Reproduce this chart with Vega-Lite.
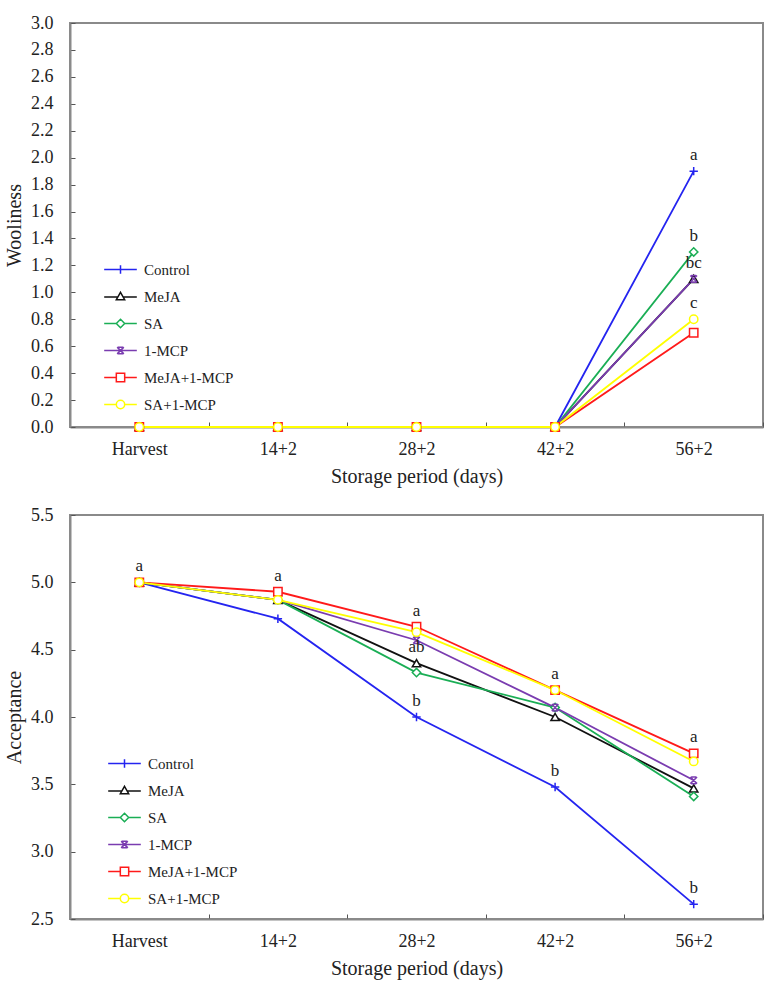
{
  "$schema": "https://vega.github.io/schema/vega-lite/v6.json",
  "description": "Woolliness and acceptance of fruit under six postharvest treatments over storage.",
  "padding": {"left": 3, "top": 13, "right": 4, "bottom": 2},
  "spacing": 18,
  "resolve": {
    "scale": {"color": "independent"},
    "legend": {"color": "independent"}
  },
  "config": {
    "font": "Liberation Serif",
    "view": {"stroke": "#8a8a8a", "strokeWidth": 2},
    "text": {"font": "Liberation Serif"},
    "axis": {
      "grid": false,
      "domainColor": "#8a8a8a",
      "domainWidth": 2,
      "tickColor": "#555555",
      "tickSize": -5,
      "tickWidth": 1,
      "labelFont": "Liberation Serif",
      "labelFontSize": 18,
      "labelColor": "#222222",
      "titleFont": "Liberation Serif",
      "titleFontSize": 20,
      "titleFontWeight": "normal",
      "titleColor": "#222222"
    },
    "axisX": {"labelPadding": 18, "titlePadding": 8, "labelAngle": 0, "tickBand": "extent"},
    "axisY": {"labelPadding": 22, "titlePadding": 6},
    "legend": {
      "orient": "none",
      "title": null,
      "symbolSize": 70,
      "symbolStrokeWidth": 1.5,
      "symbolFillColor": "white",
      "labelFont": "Liberation Serif",
      "labelFontSize": 15,
      "labelColor": "#222222",
      "labelOffset": 16,
      "rowPadding": 11
    }
  },
  "datasets": {
    "woolliness": [
      {"period": "Harvest", "treatment": "Control", "value": 0},
      {"period": "14+2", "treatment": "Control", "value": 0},
      {"period": "28+2", "treatment": "Control", "value": 0},
      {"period": "42+2", "treatment": "Control", "value": 0},
      {"period": "56+2", "treatment": "Control", "value": 1.9, "sig": "a"},
      {"period": "Harvest", "treatment": "MeJA", "value": 0},
      {"period": "14+2", "treatment": "MeJA", "value": 0},
      {"period": "28+2", "treatment": "MeJA", "value": 0},
      {"period": "42+2", "treatment": "MeJA", "value": 0},
      {"period": "56+2", "treatment": "MeJA", "value": 1.1},
      {"period": "Harvest", "treatment": "SA", "value": 0},
      {"period": "14+2", "treatment": "SA", "value": 0},
      {"period": "28+2", "treatment": "SA", "value": 0},
      {"period": "42+2", "treatment": "SA", "value": 0},
      {"period": "56+2", "treatment": "SA", "value": 1.3, "sig": "b"},
      {"period": "Harvest", "treatment": "1-MCP", "value": 0},
      {"period": "14+2", "treatment": "1-MCP", "value": 0},
      {"period": "28+2", "treatment": "1-MCP", "value": 0},
      {"period": "42+2", "treatment": "1-MCP", "value": 0},
      {"period": "56+2", "treatment": "1-MCP", "value": 1.1, "sig": "bc"},
      {"period": "Harvest", "treatment": "MeJA+1-MCP", "value": 0},
      {"period": "14+2", "treatment": "MeJA+1-MCP", "value": 0},
      {"period": "28+2", "treatment": "MeJA+1-MCP", "value": 0},
      {"period": "42+2", "treatment": "MeJA+1-MCP", "value": 0},
      {"period": "56+2", "treatment": "MeJA+1-MCP", "value": 0.7},
      {"period": "Harvest", "treatment": "SA+1-MCP", "value": 0},
      {"period": "14+2", "treatment": "SA+1-MCP", "value": 0},
      {"period": "28+2", "treatment": "SA+1-MCP", "value": 0},
      {"period": "42+2", "treatment": "SA+1-MCP", "value": 0},
      {"period": "56+2", "treatment": "SA+1-MCP", "value": 0.8, "sig": "c"}
    ],
    "acceptance": [
      {"period": "Harvest", "treatment": "Control", "value": 5.0},
      {"period": "14+2", "treatment": "Control", "value": 4.73},
      {"period": "28+2", "treatment": "Control", "value": 4.0, "sig": "b"},
      {"period": "42+2", "treatment": "Control", "value": 3.48, "sig": "b"},
      {"period": "56+2", "treatment": "Control", "value": 2.61, "sig": "b"},
      {"period": "Harvest", "treatment": "MeJA", "value": 5.0},
      {"period": "14+2", "treatment": "MeJA", "value": 4.87},
      {"period": "28+2", "treatment": "MeJA", "value": 4.4, "sig": "ab"},
      {"period": "42+2", "treatment": "MeJA", "value": 4.0},
      {"period": "56+2", "treatment": "MeJA", "value": 3.47},
      {"period": "Harvest", "treatment": "SA", "value": 5.0},
      {"period": "14+2", "treatment": "SA", "value": 4.87},
      {"period": "28+2", "treatment": "SA", "value": 4.33},
      {"period": "42+2", "treatment": "SA", "value": 4.07},
      {"period": "56+2", "treatment": "SA", "value": 3.41},
      {"period": "Harvest", "treatment": "1-MCP", "value": 5.0},
      {"period": "14+2", "treatment": "1-MCP", "value": 4.87},
      {"period": "28+2", "treatment": "1-MCP", "value": 4.57},
      {"period": "42+2", "treatment": "1-MCP", "value": 4.07},
      {"period": "56+2", "treatment": "1-MCP", "value": 3.53},
      {"period": "Harvest", "treatment": "MeJA+1-MCP", "value": 5.0, "sig": "a"},
      {"period": "14+2", "treatment": "MeJA+1-MCP", "value": 4.93, "sig": "a"},
      {"period": "28+2", "treatment": "MeJA+1-MCP", "value": 4.67, "sig": "a"},
      {"period": "42+2", "treatment": "MeJA+1-MCP", "value": 4.2, "sig": "a"},
      {"period": "56+2", "treatment": "MeJA+1-MCP", "value": 3.73, "sig": "a"},
      {"period": "Harvest", "treatment": "SA+1-MCP", "value": 5.0},
      {"period": "14+2", "treatment": "SA+1-MCP", "value": 4.87},
      {"period": "28+2", "treatment": "SA+1-MCP", "value": 4.63},
      {"period": "42+2", "treatment": "SA+1-MCP", "value": 4.2},
      {"period": "56+2", "treatment": "SA+1-MCP", "value": 3.67}
    ]
  },
  "vconcat": [
    {
      "width": 693,
      "height": 404,
      "data": {"name": "woolliness"},
      "encoding": {
        "x": {
          "field": "period",
          "type": "ordinal",
          "sort": ["Harvest", "14+2", "28+2", "42+2", "56+2"],
          "scale": {"type": "band", "paddingInner": 0, "paddingOuter": 0},
          "axis": {"title": "Storage period (days)"}
        },
        "y": {
          "field": "value",
          "type": "quantitative",
          "scale": {"domain": [0, 3], "nice": false},
          "axis": {
            "title": "Wooliness",
            "values": [0, 0.2, 0.4, 0.6, 0.8, 1.0, 1.2, 1.4, 1.6, 1.8, 2.0, 2.2, 2.4, 2.6, 2.8, 3.0],
            "format": ".1f"
          }
        },
        "color": {
          "field": "treatment",
          "type": "nominal",
          "scale": {
            "domain": ["Control", "MeJA", "SA", "1-MCP", "MeJA+1-MCP", "SA+1-MCP"],
            "range": ["#2424f0", "#111111", "#1aae55", "#7a3cb0", "#ff1a1a", "#ffff00"]
          },
          "legend": {
            "legendX": 43,
            "legendY": 239,
            "encode": {
              "symbols": {
                "update": {
                  "shape": {"signal": "datum.value === 'Control' ? 'M-3.9,0H3.9M0,-1V1' : datum.value === 'MeJA' ? 'M-3.9,0.1H-0.55M0.55,0.1H3.9M0,-1L1,0.75L-1,0.75Z' : datum.value === 'SA' ? 'M-3.9,0H-1M1,0H3.9M0,-1L1,0L0,1L-1,0Z' : datum.value === '1-MCP' ? 'M-3.9,0H3.9M-0.8,-0.8L0.8,0.8M-0.8,0.8L0.8,-0.8M-0.6,-0.8H0.6M-0.6,0.8H0.6' : datum.value === 'MeJA+1-MCP' ? 'M-3.9,0H-1M1,0H3.9M-1,-1H1V1H-1Z' : 'M-3.9,0H-1M1,0H3.9M1,0A1,1,0,1,1,-1,0A1,1,0,1,1,1,0Z'"}
                }
              }
            }
          }
        }
      },
      "layer": [
        {"mark": {"type": "line", "strokeWidth": 1.8}},
        {
          "mark": {"type": "point", "filled": false, "fill": "white", "fillOpacity": 1, "opacity": 1, "size": 70, "strokeWidth": 1.5},
          "encoding": {
            "shape": {
              "condition": [
                {"test": "datum.treatment === 'Control'", "value": "M-1,0H1M0,-1V1"},
                {"test": "datum.treatment === 'MeJA'", "value": "triangle-up"},
                {"test": "datum.treatment === 'SA'", "value": "diamond"},
                {"test": "datum.treatment === '1-MCP'", "value": "M-0.8,-0.8L0.8,0.8M-0.8,0.8L0.8,-0.8M-0.6,-0.8H0.6M-0.6,0.8H0.6"},
                {"test": "datum.treatment === 'MeJA+1-MCP'", "value": "square"}
              ],
              "value": "circle"
            }
          }
        },
        {
          "transform": [{"filter": "isValid(datum.sig)"}],
          "mark": {"type": "text", "dy": -16, "fontSize": 17, "font": "Liberation Serif"},
          "encoding": {
            "text": {"field": "sig"},
            "color": {"value": "#222222"}
          }
        }
      ]
    },
    {
      "width": 693,
      "height": 404,
      "data": {"name": "acceptance"},
      "encoding": {
        "x": {
          "field": "period",
          "type": "ordinal",
          "sort": ["Harvest", "14+2", "28+2", "42+2", "56+2"],
          "scale": {"type": "band", "paddingInner": 0, "paddingOuter": 0},
          "axis": {"title": "Storage period (days)"}
        },
        "y": {
          "field": "value",
          "type": "quantitative",
          "scale": {"domain": [2.5, 5.5], "nice": false, "zero": false},
          "axis": {
            "title": "Acceptance",
            "values": [2.5, 3.0, 3.5, 4.0, 4.5, 5.0, 5.5],
            "format": ".1f"
          }
        },
        "color": {
          "field": "treatment",
          "type": "nominal",
          "scale": {
            "domain": ["Control", "MeJA", "SA", "1-MCP", "MeJA+1-MCP", "SA+1-MCP"],
            "range": ["#2424f0", "#111111", "#1aae55", "#7a3cb0", "#ff1a1a", "#ffff00"]
          },
          "legend": {
            "legendX": 47,
            "legendY": 241,
            "encode": {
              "symbols": {
                "update": {
                  "shape": {"signal": "datum.value === 'Control' ? 'M-3.9,0H3.9M0,-1V1' : datum.value === 'MeJA' ? 'M-3.9,0.1H-0.55M0.55,0.1H3.9M0,-1L1,0.75L-1,0.75Z' : datum.value === 'SA' ? 'M-3.9,0H-1M1,0H3.9M0,-1L1,0L0,1L-1,0Z' : datum.value === '1-MCP' ? 'M-3.9,0H3.9M-0.8,-0.8L0.8,0.8M-0.8,0.8L0.8,-0.8M-0.6,-0.8H0.6M-0.6,0.8H0.6' : datum.value === 'MeJA+1-MCP' ? 'M-3.9,0H-1M1,0H3.9M-1,-1H1V1H-1Z' : 'M-3.9,0H-1M1,0H3.9M1,0A1,1,0,1,1,-1,0A1,1,0,1,1,1,0Z'"}
                }
              }
            }
          }
        }
      },
      "layer": [
        {"mark": {"type": "line", "strokeWidth": 1.8}},
        {
          "mark": {"type": "point", "filled": false, "fill": "white", "fillOpacity": 1, "opacity": 1, "size": 70, "strokeWidth": 1.5},
          "encoding": {
            "shape": {
              "condition": [
                {"test": "datum.treatment === 'Control'", "value": "M-1,0H1M0,-1V1"},
                {"test": "datum.treatment === 'MeJA'", "value": "triangle-up"},
                {"test": "datum.treatment === 'SA'", "value": "diamond"},
                {"test": "datum.treatment === '1-MCP'", "value": "M-0.8,-0.8L0.8,0.8M-0.8,0.8L0.8,-0.8M-0.6,-0.8H0.6M-0.6,0.8H0.6"},
                {"test": "datum.treatment === 'MeJA+1-MCP'", "value": "square"}
              ],
              "value": "circle"
            }
          }
        },
        {
          "transform": [{"filter": "isValid(datum.sig)"}],
          "mark": {"type": "text", "dy": -16, "fontSize": 17, "font": "Liberation Serif"},
          "encoding": {
            "text": {"field": "sig"},
            "color": {"value": "#222222"}
          }
        }
      ]
    }
  ]
}
